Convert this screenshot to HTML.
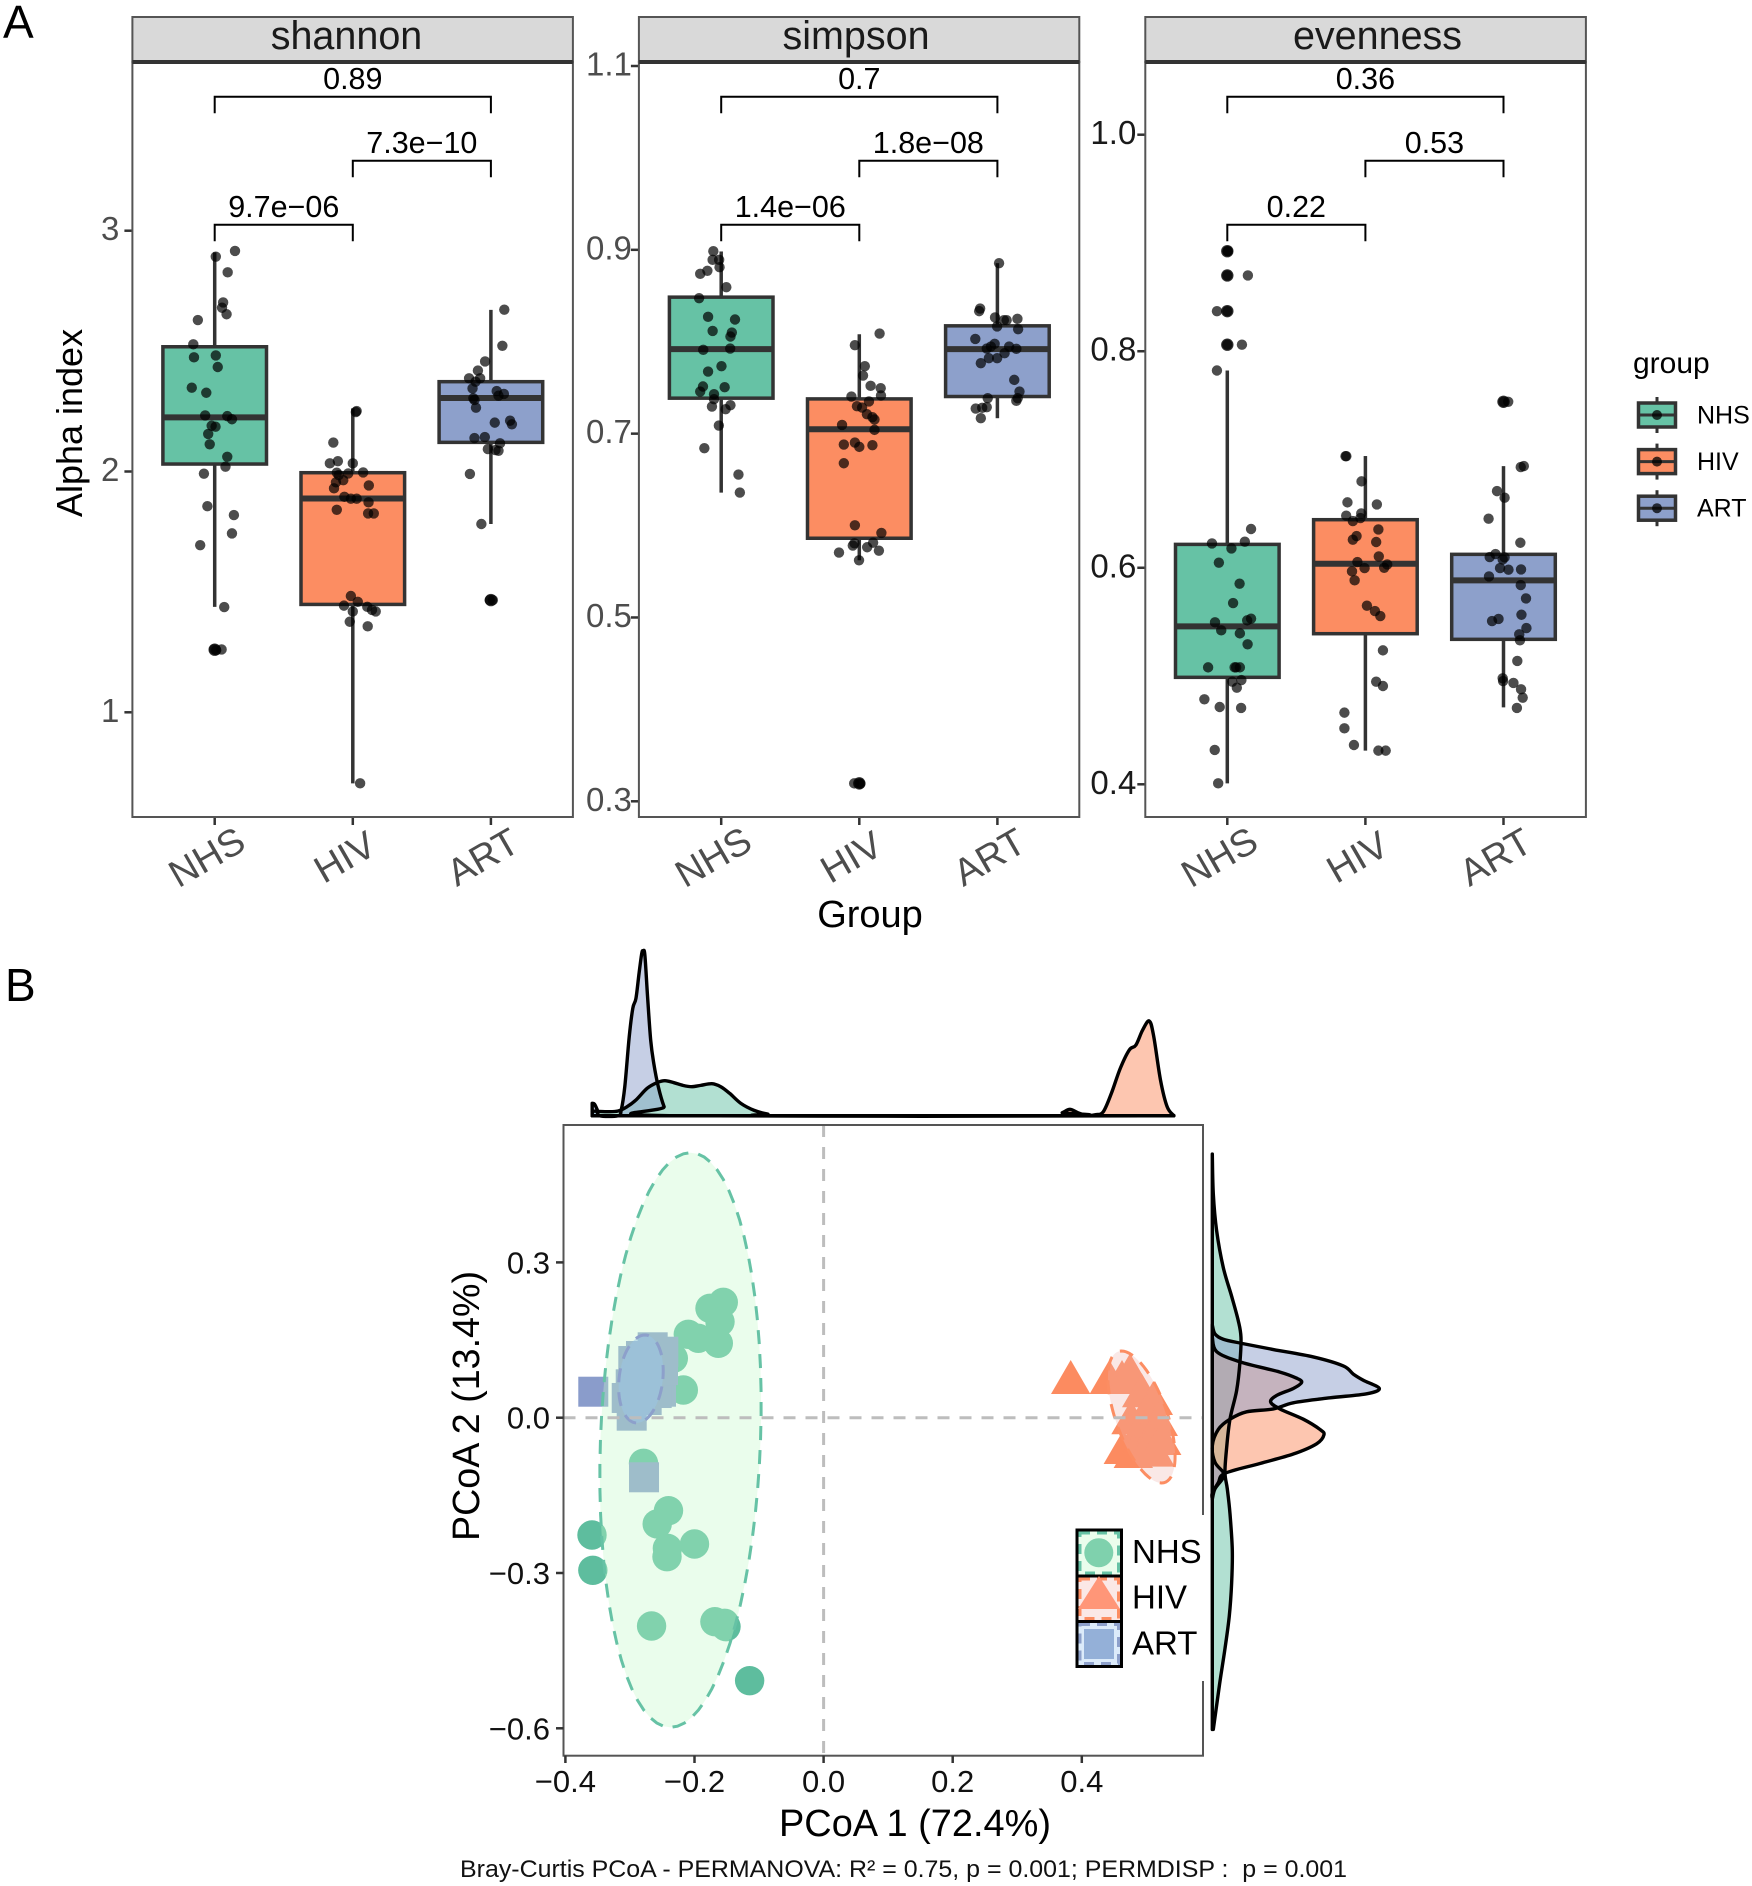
<!DOCTYPE html>
<html lang="en">
<head>
<meta charset="utf-8">
<title>Alpha diversity and PCoA</title>
<style>
html,body{margin:0;padding:0;background:#fff;}
svg{display:block;font-family:"Liberation Sans",Arial,sans-serif;}
</style>
</head>
<body>
<svg id="fig" xmlns="http://www.w3.org/2000/svg" width="1752" height="1886" viewBox="0 0 1752 1886">
<rect width="1752" height="1886" fill="#fff"/>
<text x="3" y="38" font-size="46" fill="#000">A</text>
<text x="5" y="1001" font-size="46" fill="#000">B</text>
<text transform="translate(82,423) rotate(-90)" text-anchor="middle" font-size="36" fill="#000">Alpha index</text>
<text x="870" y="927" text-anchor="middle" font-size="38" fill="#000">Group</text>
<text x="1633" y="373" font-size="30" fill="#000">group</text>
<g id="panels"></g>
<g id="boxLegend"></g>
<g id="pcoa"></g>
<rect x="1066" y="1515" width="142" height="166" fill="#fff"/>
<g>
  <rect x="1077" y="1530" width="44.5" height="46" fill="#eafdec" stroke="#000" stroke-width="3"/>
  <rect x="1080" y="1533" width="38.5" height="40" fill="none" stroke="#66c2a5" stroke-width="3" stroke-dasharray="10 7"/>
  <circle cx="1098.8" cy="1552.7" r="14.5" fill="#7fd1ad"/>
  <text x="1132" y="1563" font-size="33" fill="#000">NHS</text>
  <rect x="1077" y="1576" width="44.5" height="45.5" fill="#fbe8e6" stroke="#000" stroke-width="3"/>
  <rect x="1080" y="1579" width="38.5" height="39.5" fill="none" stroke="#fc8d62" stroke-width="3" stroke-dasharray="10 7"/>
  <polygon points="1099,1576 1120,1609 1078,1609" fill="#ff9678"/>
  <text x="1132" y="1608.5" font-size="33" fill="#000">HIV</text>
  <rect x="1077" y="1621.5" width="44.5" height="45" fill="#dcebfa" stroke="#000" stroke-width="3"/>
  <rect x="1080" y="1624.5" width="38.5" height="39" fill="none" stroke="#8da0cb" stroke-width="3" stroke-dasharray="10 7"/>
  <rect x="1084" y="1629" width="30" height="30" fill="#94b0d8"/>
  <text x="1132" y="1654.5" font-size="33" fill="#000">ART</text>
</g>
<text x="915" y="1836" text-anchor="middle" font-size="38" textLength="272" lengthAdjust="spacingAndGlyphs" fill="#000">PCoA 1 (72.4%)</text>
<text transform="translate(479,1406) rotate(-90)" text-anchor="middle" font-size="38" textLength="270" lengthAdjust="spacingAndGlyphs" fill="#000">PCoA 2 (13.4%)</text>
<text x="460" y="1877" font-size="24" textLength="887" lengthAdjust="spacingAndGlyphs" fill="#111" style="white-space:pre">Bray-Curtis PCoA - PERMANOVA: R² = 0.75, p = 0.001; PERMDISP :  p = 0.001</text>
</svg>
<script>
// ---------- Panel A data ----------
const categories = ['NHS', 'HIV', 'ART'];
const groupColors = ['#66c2a5', '#fc8d62', '#8da0cb'];

const shannonTicks = [1, 2, 3];
const simpsonTicks = [0.3, 0.5, 0.7, 0.9, 1.1];
const evennessTicks = [0.4, 0.6, 0.8, 1.0];

// [low whisker, q1, median, q3, high whisker]
const shannonBoxes = [[1.438, 2.031, 2.225, 2.518, 2.910], [0.705, 1.448, 1.888, 1.995, 2.262], [1.782, 2.121, 2.305, 2.373, 2.671]];
const simpsonBoxes = [[0.6359, 0.7386, 0.7919, 0.8485, 0.8982], [0.5622, 0.5862, 0.7048, 0.7378, 0.8082], [0.7168, 0.7404, 0.7919, 0.8173, 0.8855]];
const evennessBoxes = [[0.4009, 0.4988, 0.5459, 0.6216, 0.7822], [0.4311, 0.5391, 0.6037, 0.6444, 0.7032], [0.4711, 0.5339, 0.5884, 0.6124, 0.6939]];

// boxplot outliers per group
const shannonOutliers = [[1.26], [], [1.466]];
const simpsonOutliers = [[], [0.3195], []];
const evennessOutliers = [[0.8924, 0.87, 0.837, 0.806], [], [0.7533]];

// [p-value label for 1-2, 2-3, 1-3]
const shannonP = ['9.7e−06', '7.3e−10', '0.89'];
const simpsonP = ['1.4e−06', '1.8e−08', '0.7'];
const evennessP = ['0.22', '0.53', '0.36'];

// samples: [horizontal jitter in category units, index value]
const shannonNHS = [[.147,2.916],[.008,2.892],[.094,2.827],[.061,2.702],[.053,2.680],[.086,2.653],[-.122,2.629],[-.155,2.528],[-.150,2.474],[.008,2.482],[.022,2.434],[-.166,2.348],[-.061,2.327],[-.069,2.233],[.091,2.230],[.125,2.217],[.006,2.186],[-.022,2.190],[-.047,2.156],[-.036,2.113],[.091,2.061],[.078,2.020],[-.078,1.991],[-.053,1.856],[.139,1.819],[.125,1.743],[-.105,1.694],[.069,1.437],[-.003,1.261],[.011,1.258],[.05,1.261]];
const shannonHIV = [[.028,2.251],[.022,2.247],[-.141,2.120],[-.166,2.034],[-.108,2.043],[0,2.034],[.075,1.996],[-.116,1.995],[-.033,1.992],[-.102,1.985],[-.069,1.964],[-.122,1.955],[-.136,1.930],[.116,1.942],[-.061,1.895],[-.014,1.887],[.028,1.887],[.114,1.872],[-.116,1.841],[.111,1.826],[.152,1.826],[-.014,1.483],[.036,1.459],[-.064,1.443],[.105,1.438],[.139,1.425],[.166,1.419],[0,1.419],[-.022,1.376],[.108,1.357],[.053,.705]];
const shannonART = [[.097,2.672],[.083,2.522],[-.042,2.457],[-.094,2.419],[-.158,2.387],[-.078,2.387],[-.111,2.373],[-.133,2.345],[.042,2.334],[.094,2.322],[.055,2.315],[-.127,2.304],[-.119,2.297],[-.108,2.265],[.028,2.203],[.139,2.211],[.152,2.196],[-.119,2.139],[-.044,2.143],[.066,2.117],[-.022,2.093],[.033,2.089],[.055,2.086],[-.152,1.990],[-.069,1.782],[-.008,1.466],[.014,1.466]];

const simpsonNHS = [[-.057,.8985],[-.062,.8891],[-.015,.8891],[-.012,.8811],[-.100,.8772],[-.152,.8739],[.037,.8594],[-.160,.8474],[-.095,.8271],[.100,.8242],[-.062,.8118],[.077,.8100],[.067,.8057],[-.130,.7912],[.065,.7926],[.002,.7734],[-.095,.7676],[-.132,.7513],[.025,.7505],[-.152,.7458],[-.052,.7429],[-.052,.7375],[.067,.7310],[-.067,.7295],[.032,.7266],[-.017,.7088],[-.122,.6842],[.125,.6555],[.135,.6359]];
const simpsonHIV = [[.147,.8089],[-.032,.7963],[.040,.7734],[.027,.7632],[.082,.7520],[.155,.7495],[.157,.7415],[-.057,.7404],[.070,.7350],[-.017,.7299],[.020,.7284],[.055,.7212],[.095,.7179],[.110,.7154],[-.125,.7095],[.110,.7041],[-.112,.6881],[-.032,.6903],[0,.6856],[.095,.6874],[-.112,.6678],[-.032,.6003],[.160,.5920],[-.035,.5807],[.100,.5814],[-.047,.5782],[.057,.5764],[.142,.5727],[-.147,.5706],[-.002,.5622],[-.037,.3195],[0,.3195],[.007,.3191]];
const simpsonART = [[.012,.8855],[-.125,.8361],[-.132,.8333],[-.017,.8264],[.047,.8235],[.067,.8235],[.145,.8249],[-.002,.8166],[.150,.8137],[-.160,.8031],[-.020,.7977],[-.047,.7948],[-.077,.7926],[.085,.7948],[.137,.7923],[.052,.7875],[-.002,.7821],[-.062,.7821],[-.120,.7767],[.122,.7585],[.160,.7458],[-.070,.7386],[.147,.7386],[.137,.7357],[-.077,.7288],[-.110,.7281],[-.157,.7273],[-.120,.7168]];

const evennessNHS = [[0,.8924],[.004,.8924],[0,.8700],[.149,.8700],[0,.8370],[-.075,.8370],[0,.8060],[.106,.8060],[-.075,.7822],[.172,.6358],[-.111,.6225],[.127,.6241],[.030,.6179],[-.061,.6047],[.089,.5853],[.042,.5674],[.172,.5530],[.144,.5514],[-.089,.5496],[-.044,.5422],[.091,.5394],[.147,.5293],[-.139,.5080],[.053,.5080],[.091,.5080],[.064,.5080],[.036,.4948],[.102,.4963],[.069,.4892],[-.166,.4785],[-.055,.4714],[.100,.4705],[-.091,.4317],[-.066,.4009]];
const evennessHIV = [[-.144,.7031],[-.138,.7031],[-.130,.6604],[-.028,.6798],[.083,.6585],[-.139,.6481],[-.030,.6502],[-.036,.6459],[-.091,.6431],[-.064,.6293],[-.091,.6259],[.094,.6354],[.078,.6238],[.097,.6105],[-.058,.6053],[.158,.6031],[.136,.6000],[-.006,.5997],[-.097,.5967],[-.078,.5884],[.011,.5650],[.069,.5600],[.108,.5554],[.127,.5237],[.078,.4948],[.127,.4908],[-.152,.4662],[-.152,.4517],[-.083,.4363],[.094,.4311],[.147,.4311]];
const evennessART = [[0,.7533],[.034,.7533],[.147,.6939],[.125,.6930],[-.047,.6708],[.008,.6647],[-.108,.6453],[.122,.6231],[-.058,.6127],[-.100,.6099],[.008,.6096],[-.006,.6077],[-.025,.5997],[.036,.5982],[.127,.5985],[-.105,.5920],[.125,.5840],[.163,.5717],[.130,.5566],[-.036,.5527],[-.083,.5508],[.166,.5443],[.114,.5385],[.119,.5330],[.100,.5139],[-.006,.4979],[-.003,.4954],[.072,.4936],[.127,.4877],[.139,.4800],[.097,.4705]];

// ---------- Panel B data ----------
const pcoaXTicks = [-0.4, -0.2, 0.0, 0.2, 0.4];
const pcoaYTicks = [-0.6, -0.3, 0.0, 0.3];
// samples: [PCoA1, PCoA2]
const pcoaNHS = [[-.1554,.2229],[-.176,.2113],[-.1605,.1854],[-.1631,.1437],[-.1941,.1534],[-.2096,.1611],[-.2328,.1147],[-.2173,.0535],[-.279,-.0881],[-.2403,-.1796],[-.2578,-.2053],[-.2,-.244],[-.242,-.2523],[-.2426,-.2685],[-.3588,-.2266],[-.3575,-.2948],[-.2665,-.4024],[-.1684,-.3941],[-.1534,-.3971],[-.1512,-.4037],[-.1146,-.508]];
const pcoaHIV = [[.3828,.0676],[.4426,.0676],[.4623,.0676],[.4747,.0805],[.4928,.0419],[.5108,.027],[.5005,.0033],[.5185,-.0135],[.4762,-.0102],[.4953,-.0353],[.4851,-.0419],[.5056,-.0483],[.4643,-.0676],[.4798,-.0753],[.5134,-.0728],[.5005,-.0676],[.5238,-.0502]];
const pcoaART = [[-.2648,.136],[-.2948,.1095],[-.2829,.1192],[-.2483,.1275],[-.2519,.0502],[-.2586,.0477],[-.2741,.0342],[-.2973,.0039],[-.305,.0381],[-.2988,.0645],[-.3568,.0502],[-.2782,-.1151],[-.2844,.0825],[-.2689,.092],[-.2767,.0535],[-.2488,.092]];
// confidence ellipses: centre, x radius, y radius, x shear (all in PCoA units)
const ellipseNHS = [-.2217, -.0431, .124, .555, .0155];
const ellipseHIV = [.4925, .0014, .0418, .1275, -.031];
const ellipseART = [-.283, .0748, .034, .085, .0062];
// marginal densities along PCoA1: position and density
const topXNHS = [-.3585,-.3357,-.3184,-.3045,-.2907,-.2734,-.2582,-.2458,-.2319,-.2181,-.2043,-.1904,-.1731,-.1593,-.1455,-.1282,-.1075,-.0867,-.059,.5426];
const topDNHS = [.467,.4,.467,.9,1.567,2.733,3.3,3.5,3.3,3.033,2.9,3.033,3.2,2.9,2.233,1.233,.533,.167,0,0];
const topXHIV = [-.3585,.3559,.3697,.3815,.3939,.4078,.4216,.4333,.4458,.4596,.4735,.4838,.4942,.5046,.5115,.5219,.5322,.5426];
const topDHIV = [0,0,.3,.633,.3,.033,.1,.4,2.233,4.733,6.567,7.067,8.567,9.467,7.9,3.567,.9,0];
const topXART = [-.3585,-.3550,-.3509,-.3467,-.3184,-.3135,-.308,-.3011,-.2956,-.2907,-.2859,-.2817,-.2796,-.2769,-.2727,-.2679,-.2631,-.2561,-.2471,-.2388,.5426];
const topDART = [1.233,1.167,.633,0,0,.567,2.9,7.9,10.733,11.733,14.233,16.233,16.467,16.067,11.9,7.567,5.233,2.9,.9,0,0];
// marginal densities along PCoA2: position and density
const rightYNHS = [.5093,.4325,.3613,.29,.2346,.1871,.1554,.1079,.0525,-.0029,-.0583,-.1058,-.1375,-.185,-.2562,-.3195,-.3829,-.4462,-.5095,-.565,-.6022];
const rightDNHS = [0,.1,.433,1.1,1.933,2.6,2.867,2.767,2.433,1.767,1.433,1.267,1.5,1.767,2,1.933,1.7,1.267,.767,.367,.1];
const rightYHIV = [.1554,.1277,.1079,.0881,.0763,.0683,.0565,.043,.0304,.0169,-.0029,-.0227,-.033,-.0504,-.0702,-.0884,-.1074,-.1256,-.1454,-.1573];
const rightDHIV = [0,.433,2.767,6.767,8.433,8.933,8.1,6.433,5.833,6.767,9.1,10.767,11.167,10.433,8.1,4.767,1.267,.6,0,0];
const rightYART = [.1792,.1618,.1515,.1436,.1317,.1174,.1,.0842,.0723,.0565,.0462,.0383,.0288,.0169,.0114,-.0029,-.0227,-.0543,-.086,-.1058,-.1177,-.1375,-.1573];
const rightDART = [0,.267,1.1,2.933,6.1,10.1,13.1,14.1,15.1,16.7,15.433,11.767,8.1,6.1,3.433,1.767,.6,0,.267,1.1,1.033,.267,0];

// ---------- Helpers ----------
const NS = 'http://www.w3.org/2000/svg';
function mk(parent, tag, attrs, txt) {
  const el = document.createElementNS(NS, tag);
  for (const k in attrs) el.setAttribute(k, attrs[k]);
  if (txt !== undefined) el.textContent = txt;
  parent.appendChild(el);
  return el;
}
function linear(d0, r0, d1, r1) {
  return v => r0 + (v - d0) * (r1 - r0) / (d1 - d0);
}
function smooth(pts) {
  let d = 'L' + pts[0][0].toFixed(2) + ' ' + pts[0][1].toFixed(2);
  for (let i = 0; i < pts.length - 1; i++) {
    const p0 = pts[Math.max(i - 1, 0)], p1 = pts[i], p2 = pts[i + 1], p3 = pts[Math.min(i + 2, pts.length - 1)];
    const c1 = [p1[0] + (p2[0] - p0[0]) / 6, p1[1] + (p2[1] - p0[1]) / 6];
    const c2 = [p2[0] - (p3[0] - p1[0]) / 6, p2[1] - (p3[1] - p1[1]) / 6];
    d += 'C' + c1[0].toFixed(2) + ' ' + c1[1].toFixed(2) + ' ' + c2[0].toFixed(2) + ' ' + c2[1].toFixed(2) + ' ' + p2[0].toFixed(2) + ' ' + p2[1].toFixed(2);
  }
  return d;
}

// ---------- Panel A ----------
const panelsG = document.getElementById('panels');
function drawPanel(cfg) {
  const g = mk(panelsG, 'g', {});
  
  
  const y = linear(cfg.d0, cfg.r0, cfg.d1, cfg.r1);
  const x = pos => cfg.c1 + (pos - 1) * 138.1;

  const strip = mk(g, 'rect', {x: cfg.left, y: 17, width: cfg.right - cfg.left, height: 45, fill: '#d9d9d9', stroke: '#555', 'stroke-width': 2});
  
  
  const stripText = mk(g, 'text', {x: cfg.sx, y: 49, 'text-anchor': 'middle', 'font-size': 39.5, fill: '#1a1a1a'}, cfg.name);
  
  

  cfg.ticks.forEach(t => {
    const tk = mk(g, 'line', {x1: cfg.left - 8, x2: cfg.left, y1: y(t), y2: y(t), stroke: '#333', 'stroke-width': 2.5});
    
    
    const lb = mk(g, 'text', {x: cfg.left - cfg.lgap, y: y(t) + 9.5, 'text-anchor': 'end', 'font-size': 33, fill: cfg.tickColor}, cfg.fmt(t));
    
    
  });
  categories.forEach((c, i) => {
    const cx = x(i + 1);
    const tk = mk(g, 'line', {x1: cx, x2: cx, y1: 817, y2: 825, stroke: '#333', 'stroke-width': 2.5});
    
    
    const lb = mk(g, 'text', {'text-anchor': 'middle', 'font-size': 38, fill: '#4d4d4d', transform: 'translate(' + (cx - 8) + ',857) rotate(-30) translate(0,13)'}, c);
    
    
  });
  categories.forEach((c, i) => {
    const b = cfg.boxes[i], cx = x(i + 1), hw = 51.8;
    const w1 = mk(g, 'line', {x1: cx, x2: cx, y1: y(b[4]), y2: y(b[3]), stroke: '#333', 'stroke-width': 3.5});
    
    
    const w2 = mk(g, 'line', {x1: cx, x2: cx, y1: y(b[1]), y2: y(b[0]), stroke: '#333', 'stroke-width': 3.5});
    
    
    const r = mk(g, 'rect', {x: cx - hw, width: 2 * hw, y: y(b[3]), height: y(b[1]) - y(b[3]), fill: groupColors[i], stroke: '#333', 'stroke-width': 3.5});
    
    
    const m = mk(g, 'line', {x1: cx - hw, x2: cx + hw, y1: y(b[2]), y2: y(b[2]), stroke: '#333', 'stroke-width': 6});
    
    
    cfg.outliers[i].forEach(v => {
      const o = mk(g, 'circle', {cx: cx, cy: y(v), r: 6.2, fill: '#333'});
      
      
    });
  });
  cfg.samples.forEach((arr, i) => {
    arr.forEach(p => {
      const dot = mk(g, 'circle', {cx: x(i + 1 + p[0]), cy: y(p[1]), r: 5.2, fill: '#000', 'fill-opacity': 0.7});
      
      
    });
  });
  const frame = mk(g, 'rect', {x: cfg.left, y: 62, width: cfg.right - cfg.left, height: 755, fill: 'none', stroke: '#555', 'stroke-width': 2});
  
  
  const stripLine = mk(g, 'line', {x1: cfg.left, x2: cfg.right, y1: 62, y2: 62, stroke: '#333', 'stroke-width': 4});
  
  

  [[1, 2, 224.7, cfg.p[0]], [2, 3, 160.7, cfg.p[1]], [1, 3, 96.7, cfg.p[2]]].forEach(bk => {
    const a = x(bk[0]), c = x(bk[1]), top = bk[2];
    const br = mk(g, 'path', {d: 'M' + a + ' ' + (top + 16.5) + 'V' + top + 'H' + c + 'V' + (top + 16.5), fill: 'none', stroke: '#000', 'stroke-width': 2});
    
    
    const tx = mk(g, 'text', {x: (a + c) / 2, y: top - 7.5, 'text-anchor': 'middle', 'font-size': 30.5, fill: '#000'}, bk[3]);
    
    
  });
}
drawPanel({name: 'shannon', left: 132.4, right: 572.9, c1: 214.7, sx: 346.5, d0: 1, r0: 712.3, d1: 3, r1: 230.7, ticks: shannonTicks, boxes: shannonBoxes, outliers: shannonOutliers, samples: [shannonNHS, shannonHIV, shannonART], p: shannonP, tickColor: '#4d4d4d', lgap: 13, fmt: t => String(t)});
drawPanel({name: 'simpson', left: 638.9, right: 1079.3, c1: 721.2, sx: 856, d0: 0.3, r0: 801.3, d1: 1.1, r1: 66, ticks: simpsonTicks, boxes: simpsonBoxes, outliers: simpsonOutliers, samples: [simpsonNHS, simpsonHIV, simpsonART], p: simpsonP, tickColor: '#4d4d4d', lgap: 7, fmt: t => t.toFixed(1)});
drawPanel({name: 'evenness', left: 1145.3, right: 1585.9, c1: 1227.3, sx: 1377.5, d0: 0.4, r0: 784.3, d1: 1.0, r1: 134.7, ticks: evennessTicks, boxes: evennessBoxes, outliers: evennessOutliers, samples: [evennessNHS, evennessHIV, evennessART], p: evennessP, tickColor: '#1a1a1a', lgap: 9, fmt: t => t.toFixed(1)});

// group legend
const legendG = document.getElementById('boxLegend');
categories.forEach((c, i) => {
  const cy = 415 + i * 46.6, cx = 1657;
  const wh = mk(legendG, 'line', {x1: cx, x2: cx, y1: cy - 18, y2: cy + 18, stroke: '#333', 'stroke-width': 3});
  
  
  const r = mk(legendG, 'rect', {x: cx - 18.5, y: cy - 12, width: 37, height: 24, fill: groupColors[i], stroke: '#333', 'stroke-width': 3.5});
  
  
  const m = mk(legendG, 'line', {x1: cx - 18.5, x2: cx + 18.5, y1: cy, y2: cy, stroke: '#333', 'stroke-width': 3});
  
  
  const d = mk(legendG, 'circle', {cx: cx, cy: cy, r: 5, fill: '#000', 'fill-opacity': 0.75});
  
  
  const t = mk(legendG, 'text', {x: 1697, y: cy + 8.3, 'font-size': 25, fill: '#000'}, c);
  
  
});

// ---------- Panel B ----------
const pG = document.getElementById('pcoa');
const xS = linear(0, 823.6, 0.4, 1081.8);
const yS = linear(0, 1417.7, -0.6, 1728.3);
const topBase = 1115.7, rightBase = 1212.3, densK = 10;
const fillAlpha = 0.5;

function densityFill(name, d, color) {
  const p = mk(pG, 'path', {d: d, fill: color, 'fill-opacity': fillAlpha, stroke: 'none'});
  
  
}
function densityOutline(name, d) {
  const p = mk(pG, 'path', {d: d, fill: 'none', stroke: '#000', 'stroke-width': 3.4, 'stroke-linejoin': 'round'});
  
  
}
function topPath(xs, ds) {
  const pts = xs.map((v, i) => [xS(v), topBase - ds[i] * densK]);
  return 'M' + pts[0][0].toFixed(2) + ' ' + topBase + smooth(pts) + 'L' + pts[pts.length - 1][0].toFixed(2) + ' ' + topBase + 'Z';
}
function rightPath(ys, ds) {
  const pts = ys.map((v, i) => [rightBase + ds[i] * densK, yS(v)]);
  return 'M' + rightBase + ' ' + pts[0][1].toFixed(2) + smooth(pts) + 'L' + rightBase + ' ' + pts[pts.length - 1][1].toFixed(2) + 'Z';
}
const densityPaths = [
  ['top-NHS', topPath(topXNHS, topDNHS), groupColors[0]],
  ['top-HIV', topPath(topXHIV, topDHIV), groupColors[1]],
  ['top-ART', topPath(topXART, topDART), groupColors[2]],
  ['right-NHS', rightPath(rightYNHS, rightDNHS), groupColors[0]],
  ['right-HIV', rightPath(rightYHIV, rightDHIV), groupColors[1]],
  ['right-ART', rightPath(rightYART, rightDART), groupColors[2]]
];
densityPaths.forEach(p => densityFill(p[0], p[1], p[2]));
densityPaths.forEach(p => densityOutline(p[0], p[1]));

pcoaNHS.forEach(p => {
  const c = mk(pG, 'circle', {cx: xS(p[0]), cy: yS(p[1]), r: 14.7, fill: '#5ebd9e'});
  
  
});
pcoaHIV.forEach(p => {
  const px = xS(p[0]), py = yS(p[1]);
  const c = mk(pG, 'polygon', {points: px + ',' + (py - 22.7) + ' ' + (px + 19.7) + ',' + (py + 11.3) + ' ' + (px - 19.7) + ',' + (py + 11.3), fill: '#fc8b60'});
  
  
});
pcoaART.forEach(p => {
  const c = mk(pG, 'rect', {x: xS(p[0]) - 15, y: yS(p[1]) - 15, width: 30, height: 30, fill: '#8a9ccb'});
  
  
});
function drawEllipse(name, e, fill, alpha, stroke) {
  let d = '';
  for (let a = 0; a < 72; a++) {
    const t = a / 72 * 2 * Math.PI;
    const vx = e[0] + e[2] * Math.cos(t) + e[4] * Math.sin(t);
    const vy = e[1] + e[3] * Math.sin(t);
    d += (a ? 'L' : 'M') + xS(vx).toFixed(2) + ' ' + yS(vy).toFixed(2);
  }
  const p = mk(pG, 'path', {d: d + 'Z', fill: fill, 'fill-opacity': alpha, stroke: stroke, 'stroke-width': 3, 'stroke-dasharray': '14 10'});
  
  
}
drawEllipse('NHS', ellipseNHS, 'rgb(196,249,201)', 0.354, '#66c2a5');
drawEllipse('HIV', ellipseHIV, 'rgb(238,178,171)', 0.3, '#fc8d62');
drawEllipse('ART', ellipseART, 'rgb(153,197,230)', 0.5, '#8da0cb');

const gv = mk(pG, 'line', {x1: xS(0), x2: xS(0), y1: 1125, y2: 1755.7, stroke: '#bdbdbd', 'stroke-width': 3, 'stroke-dasharray': '12 10'});


const gh = mk(pG, 'line', {x1: 563.5, x2: 1203, y1: yS(0), y2: yS(0), stroke: '#bdbdbd', 'stroke-width': 3, 'stroke-dasharray': '12 10'});



const pf = mk(pG, 'rect', {x: 563.5, y: 1125, width: 639.5, height: 630.7, fill: 'none', stroke: '#555', 'stroke-width': 2});



pcoaXTicks.forEach(t => {
  const tk = mk(pG, 'line', {x1: xS(t), x2: xS(t), y1: 1755.7, y2: 1763, stroke: '#333', 'stroke-width': 2.5});
  
  
  const lb = mk(pG, 'text', {x: xS(t), y: 1792, 'text-anchor': 'middle', 'font-size': 31, fill: '#111'}, t.toFixed(1).replace('-', '−'));
  
  
});
pcoaYTicks.forEach(t => {
  const tk = mk(pG, 'line', {x1: 556, x2: 563.5, y1: yS(t), y2: yS(t), stroke: '#333', 'stroke-width': 2.5});
  
  
  const lb = mk(pG, 'text', {x: 550, y: yS(t) + 11, 'text-anchor': 'end', 'font-size': 31, fill: '#111'}, t.toFixed(1).replace('-', '−'));
  
  
});
</script>
</body>
</html>
